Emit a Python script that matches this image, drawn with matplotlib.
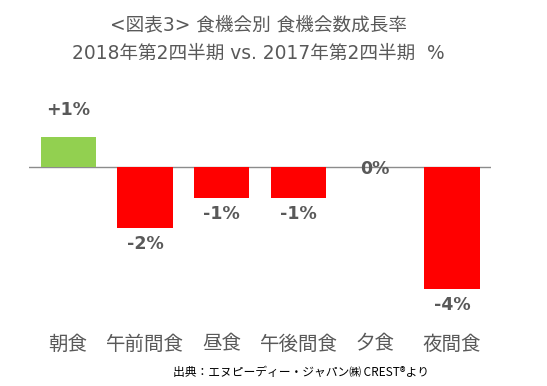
import matplotlib
matplotlib.use("Agg")
import matplotlib.pyplot as plt

plt.rcParams['font.family'] = ['Noto Sans CJK JP', 'DejaVu Sans']

categories = ['朝食', '午前間食', '昼食', '午後間食', '夕食', '夜間食']
growth = [1.0, -2.0, -1.0, -1.0, 0.0, -4.0]
value_labels = ['+1%', '-2%', '-1%', '-1%', '0%', '-4%']
title_lines = ['<図表3> 食機会別 食機会数成長率', '2018年第2四半期 vs. 2017年第2四半期  %']
source = '出典：エヌピーディー・ジャパン㈱ CREST®より'

GREEN = '#92D050'
RED = '#FF0000'
GRAY = '#595959'

fig = plt.figure(figsize=(5.47, 3.86), dpi=100)
ax = fig.add_axes([0.053, 0.197, 0.845, 0.570])

x = list(range(len(categories)))
colors = [GREEN if v > 0 else RED for v in growth]
ax.bar(x, growth, width=0.72, color=colors, zorder=2)
ax.axhline(0, color='#8c8c8c', lw=1, zorder=1)

ax.set_xlim(-0.51, 5.51)
ax.set_ylim(-4.68, 2.53)

for xi, v, lab in zip(x, growth, value_labels):
    if v > 0:
        off = 27
    elif v < 0:
        off = -16
    else:
        off = -2
    ax.annotate(lab, (xi, v), xytext=(0, off), textcoords='offset pixels',
                ha='center', va='center', fontsize=12.5, fontweight='bold',
                color=GRAY, family='DejaVu Sans', zorder=3)

ax.set_xticks(x)
ax.set_xticklabels(categories, fontsize=14, color=GRAY)
ax.tick_params(axis='x', length=0, pad=17)
ax.set_yticks([])
for s in ax.spines.values():
    s.set_visible(False)

title_font = ['DejaVu Sans', 'Noto Sans CJK JP']
fig.text(258 / 547, 1 - 25 / 386, title_lines[0], ha='center', va='center',
         fontsize=13.4, color=GRAY, family=title_font)
fig.text(258 / 547, 1 - 53 / 386, title_lines[1], ha='center', va='center',
         fontsize=13.4, color=GRAY, family=title_font)
fig.text(173 / 547, 1 - 372 / 386, source, ha='left', va='center',
         fontsize=8.5, color='black')

fig.savefig('out.png', dpi=100)
